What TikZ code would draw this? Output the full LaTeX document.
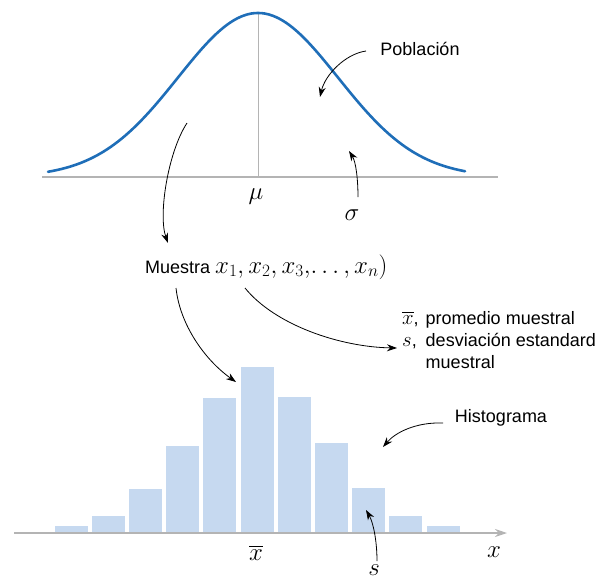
\documentclass[tikz,border=0pt]{standalone}
\usepackage{fontspec}
\setmainfont{Liberation Sans}
\usepackage{amsmath}
\usetikzlibrary{arrows.meta,calc}
\definecolor{curveblue}{HTML}{1F6EB8}
\definecolor{barblue}{HTML}{C6D9F0}
\definecolor{axisgray}{HTML}{B4B4B4}
\newcommand{\bigmath}[1]{{\fontsize{23}{22}\selectfont$#1$}}
\newcommand{\midmath}[1]{{\fontsize{20}{22}\selectfont$#1$}}
\tikzset{
  ar/.style={-{Stealth[length=10pt,width=7pt]},line width=0.8pt,black},
  lbl/.style={font=\fontsize{18}{22}\selectfont,inner sep=0pt},
  ax/.style={axisgray,line width=1.2pt}
}
\begin{document}
\begin{tikzpicture}[x=1pt,y=-1pt]
\useasboundingbox (0,0) rectangle (608,581);
% population
\draw[ax] (42,177) -- (498,177);
\draw[axisgray,line width=0.8pt] (258,12) -- (258,177);
\draw[curveblue,line width=2.6pt,line cap=round] plot[domain=48:465,samples=120] (\x,{177-164*exp(-0.5*((\x-258)/80)^2)});
\node[lbl] (mu) at (256,197) {\bigmath{\mu}};
\node[lbl] (sigma) at (352,215) {\bigmath{\sigma}};
\node[lbl] (pobl) at (420,49) {Población};
\coordinate (p0) at (366,51); \coordinate (p1) at (320,97);
\coordinate (s0) at (358,197); \coordinate (s1) at (349,151);
\coordinate (l0) at (187,123); \coordinate (l1) at (168,243);
\draw[ar] (p0) .. controls (345,54) and (325,75) .. (p1);
\draw[ar] (s0) .. controls (358,180) and (356,162) .. (s1);
\draw[ar] (l0) .. controls (168,152) and (158,215) .. (l1);
% sample
\node[lbl,anchor=base west] (muestra) at (145,273) {Muestra \bigmath{x_1, x_2, x_3,\!\ldots, x_n)}};
\node[lbl,anchor=base west] (stats) at (402,324)
  {\begin{tabular}[t]{@{}l@{\hspace{7pt}}l@{}}\midmath{\overline{x}}, & promedio muestral\\ \midmath{s}, & desviación estandard\\ & muestral\end{tabular}};
\coordinate (m0) at (176,288); \coordinate (m1) at (236,382);
\coordinate (t0) at (245,288); \coordinate (t1) at (397,348);
\draw[ar] (m0) .. controls (180,325) and (205,360) .. (m1);
\draw[ar] (t0) .. controls (275,325) and (340,347) .. (t1);
% histogram
\foreach \h [count=\i] in {7,17,44,87,135,166,136,90,45,17,7}
  \fill[barblue] ({240.5+37.2*(\i-6)},533) rectangle ++(33,-\h);
\draw[ax,-{Stealth[length=12pt,width=8pt]}] (14,533) -- (507,533);
\node[lbl] (xbar) at (256,553) {\bigmath{\overline{x}}};
\node[lbl] (xlab) at (494,552) {\bigmath{x}};
\node[lbl] (slab) at (374,570) {\bigmath{s}};
\node[lbl] (histo) at (501,418) {Histograma};
\coordinate (h0) at (443,423); \coordinate (h1) at (383,447);
\coordinate (b0) at (377,561); \coordinate (b1) at (366,510);
\draw[ar] (h0) .. controls (415,422) and (395,433) .. (h1);
\draw[ar] (b0) .. controls (377,540) and (373,522) .. (b1);
\end{tikzpicture}
\end{document}
